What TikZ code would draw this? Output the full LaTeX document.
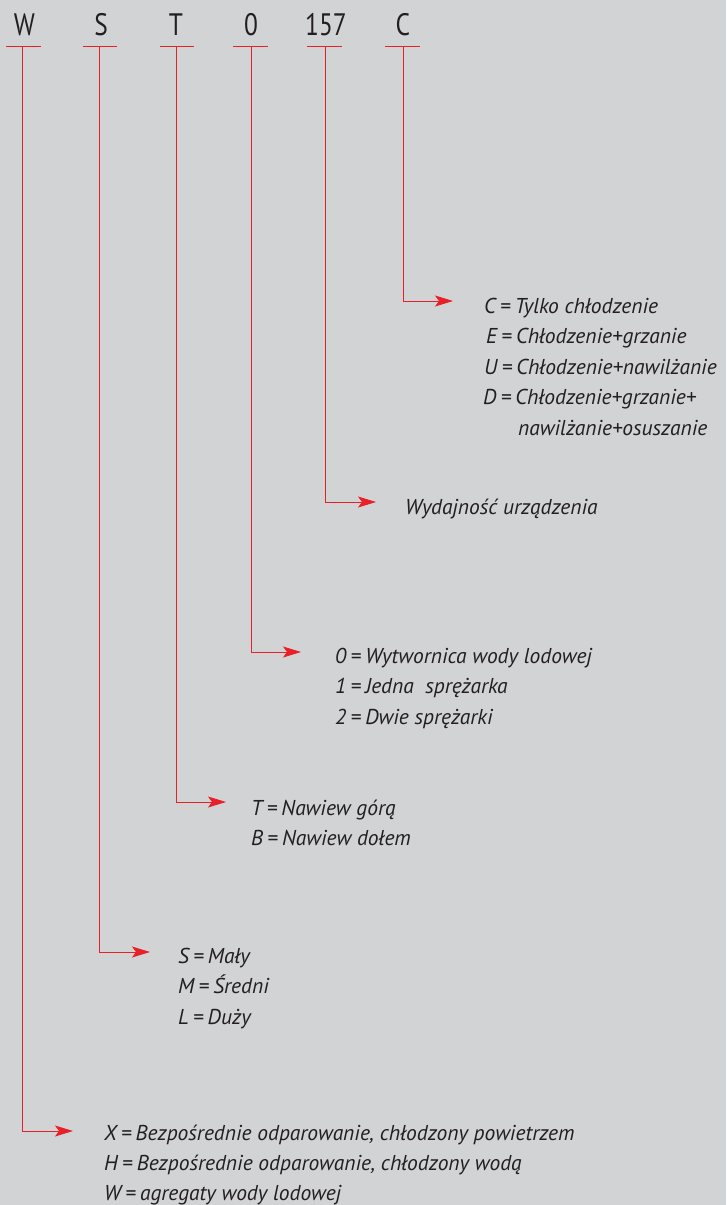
\documentclass[tikz,border=0pt]{standalone}
\usepackage{fontspec}
\setmainfont{PT Sans}
\newfontfamily\topfont[FakeStretch=0.82]{PT Sans}
\usetikzlibrary{arrows.meta}
\definecolor{bg}{RGB}{210,211,213}
\definecolor{lred}{RGB}{232,32,40}
\definecolor{txt}{RGB}{35,31,32}
\newcommand{\eqs}{\hspace{0.2em}=\hspace{0.2em}}
\begin{document}
\begin{tikzpicture}[x=1pt,y=-1pt,
  toplbl/.style={anchor=base,inner sep=0pt,font=\topfont\fontsize{31}{31}\selectfont,text=txt},
  uline/.style={draw=lred,line width=0.9pt},
  conn/.style={draw=lred,line width=0.9pt,-{Stealth[length=18pt,width=11pt,inset=4pt]}},
  desc/.style={anchor=base west,inner sep=0pt,font=\itshape\fontsize{21.5}{21.5}\selectfont,text=txt}]
\fill[bg] (0,0) rectangle (726,1205);
\useasboundingbox (0,0) rectangle (726,1205);
% top labels
\node[toplbl] (W) at (24.5,35) {W};
\node[toplbl] (S) at (101,35) {S};
\node[toplbl] (T) at (176,35) {T};
\node[toplbl] (Z) at (251,35) {0};
\node[toplbl] (N) at (326,35) {157};
\node[toplbl] (C) at (403,35) {C};
% underlines
\draw[uline] (6,46) -- (41,46);
\draw[uline] (83,46) -- (117,46);
\draw[uline] (160,46) -- (194,46);
\draw[uline] (233,46) -- (268,46);
\draw[uline] (307,46) -- (342,46);
\draw[uline] (385,46) -- (420,46);
% connector starts
\coordinate (Wu) at (22,46);
\coordinate (Su) at (99,46);
\coordinate (Tu) at (176,46);
\coordinate (Zu) at (251,46);
\coordinate (Nu) at (325,46);
\coordinate (Cu) at (403,46);
% connector ends
\coordinate (Ca) at (453,301);
\coordinate (Na) at (376,502);
\coordinate (Za) at (301,652);
\coordinate (Ta) at (226,802);
\coordinate (Sa) at (150,952);
\coordinate (Wa) at (73,1131);
\draw[conn] (Cu) |- (Ca);
\draw[conn] (Nu) |- (Na);
\draw[conn] (Zu) |- (Za);
\draw[conn] (Tu) |- (Ta);
\draw[conn] (Su) |- (Sa);
\draw[conn] (Wu) |- (Wa);
% C group
\node[desc] (c1) at (484,313) {C\eqs Tylko chłodzenie};
\node[desc] (c2) at (486,343.5) {E\eqs Chłodzenie+grzanie};
\node[desc] (c3) at (484,374) {U\eqs Chłodzenie+nawilżanie};
\node[desc] (c4) at (483,404.5) {D\eqs Chłodzenie+grzanie+};
\node[desc] (c5) at (518,435) {nawilżanie+osuszanie};
% 157
\node[desc] (n1) at (405,514) {Wydajność urządzenia};
% 0 group
\node[desc] (z1) at (335,663) {0\eqs Wytwornica wody lodowej};
\node[desc] (z2) at (335,693.5) {1\eqs Jedna\ \ sprężarka};
\node[desc] (z3) at (335,724) {2\eqs Dwie sprężarki};
% T group
\node[desc] (t1) at (251,815) {T\eqs Nawiew górą};
\node[desc] (t2) at (251,845.5) {B\eqs Nawiew dołem};
% S group
\node[desc] (s1) at (178,963) {S\eqs Mały};
\node[desc] (s2) at (178,993.5) {M\eqs Średni};
\node[desc] (s3) at (178,1024) {L\eqs Duży};
% W group
\node[desc] (w1) at (104,1140) {X\eqs Bezpośrednie odparowanie, chłodzony powietrzem};
\node[desc] (w2) at (104,1170) {H\eqs Bezpośrednie odparowanie, chłodzony wodą};
\node[desc] (w3) at (104,1200) {W\eqs agregaty wody lodowej};
\end{tikzpicture}
\end{document}
